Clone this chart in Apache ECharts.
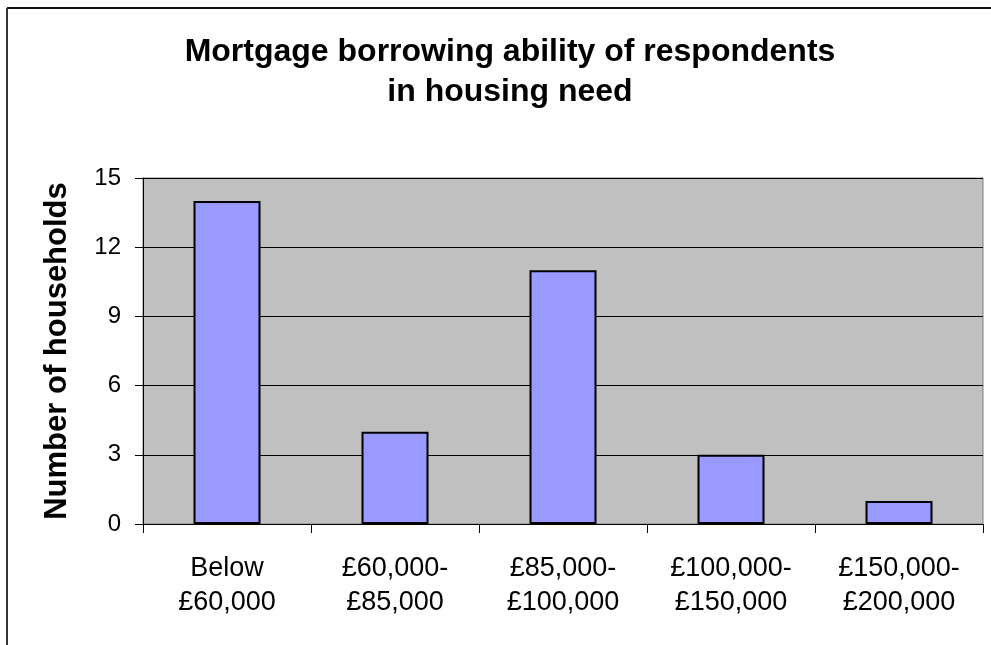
<!DOCTYPE html>
<html>
<head>
<meta charset="utf-8">
<script src="https://cdn.jsdelivr.net/npm/echarts@6/dist/echarts.min.js"></script>
<style>
  html, body { margin: 0; padding: 0; background: #ffffff; }
  #chart { width: 991px; height: 645px; }
</style>
</head>
<body>
<div id="chart"></div>
<script>
// Borrowing bands and the number of households in each
const categories = [
  'Below\n£60,000',
  '£60,000-\n£85,000',
  '£85,000-\n£100,000',
  '£100,000-\n£150,000',
  '£150,000-\n£200,000'
];
const households = [14, 4, 11, 3, 1];
const yTicks = { min: 0, max: 15, interval: 3 };

const FONT = "'Liberation Sans', Arial, Helvetica, sans-serif";

const chart = echarts.init(document.getElementById('chart'), null, { renderer: 'canvas' });

chart.setOption({
  animation: false,
  backgroundColor: '#ffffff',
  title: {
    text: 'Mortgage borrowing ability of respondents\nin housing need',
    left: 505,
    top: 27,
    textAlign: 'center',
    textStyle: {
      fontFamily: FONT,
      fontSize: 32,
      fontWeight: 'bold',
      color: '#000000',
      lineHeight: 40,
      align: 'center'
    }
  },
  // Chart frame along the top and left edges
  graphic: [
    { type: 'line', shape: { x1: 7, y1: 8, x2: 991, y2: 8 }, style: { stroke: '#111111', lineWidth: 2 } },
    { type: 'line', shape: { x1: 7, y1: 8, x2: 7, y2: 645 }, style: { stroke: '#333333', lineWidth: 2 } }
  ],
  grid: {
    left: 143,
    top: 178,
    width: 840,
    height: 346,
    show: true,
    backgroundColor: '#C0C0C0',
    borderColor: '#808080',
    borderWidth: 1
  },
  xAxis: {
    type: 'category',
    data: categories,
    boundaryGap: true,
    axisLine: { show: true, lineStyle: { color: '#000000', width: 1 } },
    axisTick: { show: true, length: 9, alignWithLabel: false, lineStyle: { color: '#000000' } },
    axisLabel: {
      interval: 0,
      margin: 28,
      fontFamily: FONT,
      fontSize: 27,
      lineHeight: 34,
      color: '#000000',
      align: 'center'
    },
    splitLine: { show: false }
  },
  yAxis: {
    type: 'value',
    min: yTicks.min,
    max: yTicks.max,
    interval: yTicks.interval,
    name: 'Number of households',
    nameLocation: 'middle',
    nameRotate: 90,
    nameGap: 70,
    nameTextStyle: {
      fontFamily: FONT,
      fontSize: 31,
      fontWeight: 'bold',
      color: '#000000'
    },
    axisLine: { show: true, lineStyle: { color: '#000000', width: 1 } },
    axisTick: { show: true, length: 8, lineStyle: { color: '#000000' } },
    axisLabel: {
      margin: 22,
      fontFamily: FONT,
      fontSize: 24,
      color: '#000000'
    },
    splitLine: { show: true, lineStyle: { color: '#000000', width: 1 } }
  },
  series: [{
    type: 'bar',
    data: households,
    barWidth: 67,
    itemStyle: {
      color: '#9999FF',
      borderColor: '#000000',
      borderWidth: 2
    }
  }]
});
</script>
</body>
</html>
